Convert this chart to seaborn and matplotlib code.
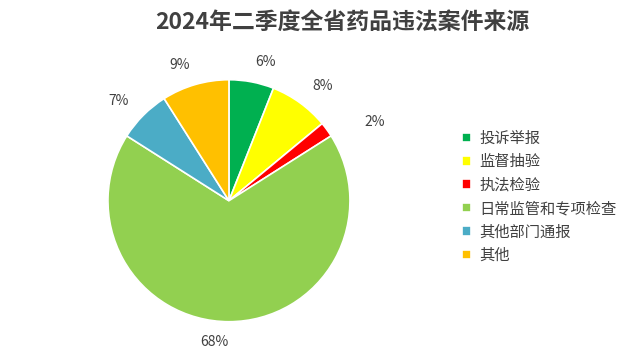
import matplotlib
matplotlib.use("Agg")
import matplotlib.pyplot as plt
import seaborn as sns

# case sources, Q2 2024
sources = ['投诉举报', '监督抽验', '执法检验', '日常监管和专项检查', '其他部门通报', '其他']
shares = [6, 8, 2, 68, 7, 9]
colors = ['#00B050', '#FFFF00', '#FF0000', '#92D050', '#4BACC6', '#FFC000']

sns.set_theme(style='white')
plt.rcParams['font.family'] = ['Noto Sans CJK SC', 'DejaVu Sans']

fig = plt.figure(figsize=(6.29, 3.54), dpi=100)
ax = fig.add_axes([0.364 - 0.1924, 0.433 - 0.3418, 0.3848, 0.6836])

wedges, texts = ax.pie(shares, colors=colors, startangle=90, counterclock=False,
                       labels=[f'{s}%' for s in shares], labeldistance=1.17,
                       wedgeprops=dict(edgecolor='white', linewidth=1.2),
                       textprops=dict(color='#404040', fontsize=10))
# the tiny slice label sits a bit further out
x, y = texts[2].get_position()
texts[2].set_position((x * 1.18, y * 0.94))
ax.set_xlim(-1.0, 1.0)
ax.set_ylim(-1.0, 1.0)
ax.set_aspect('equal')

fig.text(0.545, 0.935, '2024年二季度全省药品违法案件来源', ha='center', va='center',
         fontsize=16.5, fontweight='bold', color='#404040')

fig.legend(wedges, sources, loc='center left', bbox_to_anchor=(0.713, 0.444),
           frameon=False, fontsize=11, handlelength=0.6, handleheight=0.6,
           handletextpad=0.5, labelspacing=0.42, labelcolor='#404040')

fig.savefig('out.png', dpi=100)
